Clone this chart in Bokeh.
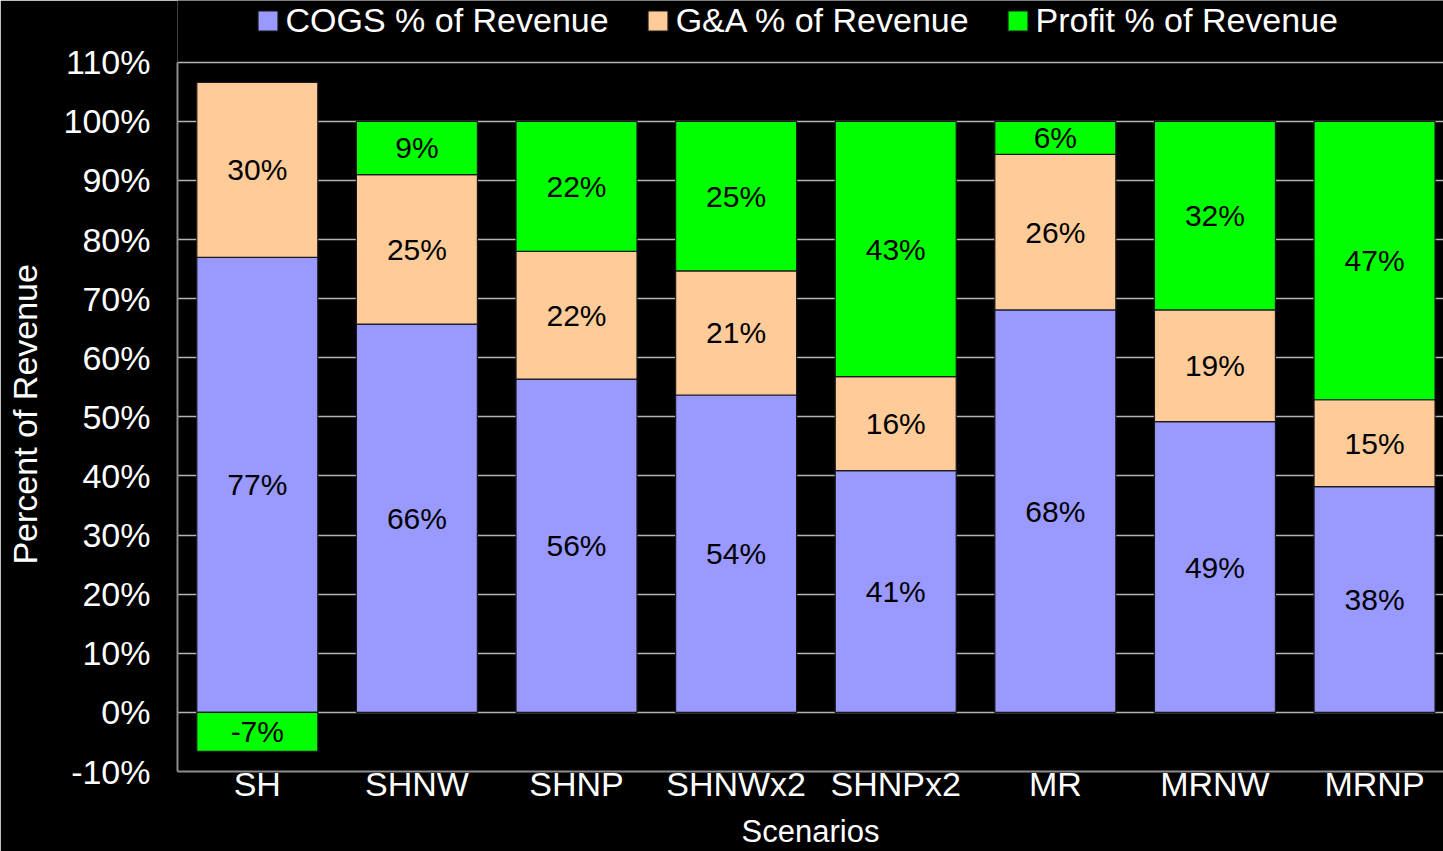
from bokeh.plotting import figure
from bokeh.models import (ColumnDataSource, Range1d, FixedTicker,
                          PrintfTickFormatter, Legend, LegendItem, LabelSet)
from bokeh.core.properties import value
from bokeh.embed import file_html
from bokeh.resources import INLINE

categories = ["SH", "SHNW", "SHNP", "SHNWx2", "SHNPx2", "MR", "MRNW", "MRNP"]
cogs = [77.0, 65.7, 56.4, 53.7, 40.9, 68.1, 49.2, 38.2]
ga = [29.6, 25.3, 21.6, 21.0, 15.9, 26.3, 18.9, 14.7]
profit = [-6.6, 9.0, 22.0, 25.3, 43.2, 5.6, 31.9, 47.1]
series_names = ["COGS % of Revenue", "G&A % of Revenue", "Profit % of Revenue"]
colors = ["#9999FF", "#FFCC99", "#00FF00"]
y_ticks = list(range(-10, 111, 10))

FONT = "Liberation Sans"

xpos = [i + 0.5 for i in range(len(categories))]

# stacked positions
cogs_bottom = [0.0] * len(categories)
cogs_top = cogs
ga_bottom = cogs
ga_top = [c + g for c, g in zip(cogs, ga)]
pr_bottom = [t if v >= 0 else 0.0 for t, v in zip(ga_top, profit)]
pr_top = [t + v if v >= 0 else v for t, v in zip(ga_top, profit)]

def make_src(bottom, top, vals):
    return ColumnDataSource(dict(
        x=xpos, bottom=bottom, top=top,
        mid=[(b + t) / 2 for b, t in zip(bottom, top)],
        label=[f"{round(v):d}%" for v in vals]))

srcs = [make_src(cogs_bottom, cogs_top, cogs),
        make_src(ga_bottom, ga_top, ga),
        make_src(pr_bottom, pr_top, profit)]

# the frame reaches the top of the page so the legend can sit above the 110% line
p = figure(width=1443, height=851, x_range=Range1d(0, 7.932),
           y_range=Range1d(-10, 120.45), output_backend="svg", toolbar_location=None,
           background_fill_color="black", border_fill_color="black",
           min_border_left=177, min_border_right=0, min_border_top=0,
           min_border_bottom=77)
p.outline_line_color = None

p.xgrid.grid_line_color = None
p.ygrid.ticker = FixedTicker(ticks=y_ticks)
p.ygrid.grid_line_color = "#b4b4b4"
p.ygrid.grid_line_width = 1.5

renderers = []
for src, col in zip(srcs, colors):
    r = p.vbar(x="x", bottom="bottom", top="top", width=0.758, source=src,
               fill_color=col, line_color="#1a1a1a", line_width=1.2)
    renderers.append(r)
    lbl = LabelSet(x="x", y="mid", text="label", source=src,
                   text_align="center", text_baseline="middle",
                   text_font=value(FONT), text_font_size="30px",
                   text_color="black")
    p.add_layout(lbl)

# axes
p.yaxis.ticker = FixedTicker(ticks=y_ticks)
p.yaxis.formatter = PrintfTickFormatter(format="%d%%")
p.yaxis.bounds = (y_ticks[0], y_ticks[-1])
p.xaxis.ticker = FixedTicker(ticks=xpos)
p.xaxis.major_label_overrides = {x: c for x, c in zip(xpos, categories)}
for ax in (p.xaxis[0], p.yaxis[0]):
    ax.axis_line_color = "#8c8c8c"
    ax.axis_line_width = 2
    ax.major_label_text_color = "white"
    ax.major_label_text_font = FONT
    ax.major_label_text_font_size = "34px"
    ax.axis_label_text_color = "white"
    ax.axis_label_text_font = FONT
    ax.axis_label_text_font_size = "34px"
    ax.axis_label_text_font_style = "normal"
    ax.minor_tick_line_color = None
    ax.major_tick_line_color = None
    ax.major_tick_in = 0
    ax.major_tick_out = 0
p.yaxis.major_label_standoff = 27
# trailing no-break spaces shift the centred title down to the middle of -10%..110%
p.yaxis.axis_label = "Percent of Revenue" + "\u00a0" * 6
p.yaxis.axis_label_standoff = 17
p.xaxis.major_label_standoff = -7
p.xaxis.axis_label = "Scenarios"
p.xaxis.axis_label_text_font_size = "31px"
p.xaxis.axis_label_standoff = 8

legend = Legend(items=[LegendItem(label=n, renderers=[r]) for n, r in zip(series_names, renderers)],
                orientation="horizontal", location=(77.5, 731),
                glyph_width=25, glyph_height=25, label_standoff=6, spacing=36,
                padding=0, margin=0, background_fill_alpha=0, border_line_alpha=0,
                label_text_color="white", label_text_font=FONT,
                label_text_font_size="34px", label_height=36)
p.add_layout(legend)

open("out.html", "w").write(file_html(p, INLINE))
